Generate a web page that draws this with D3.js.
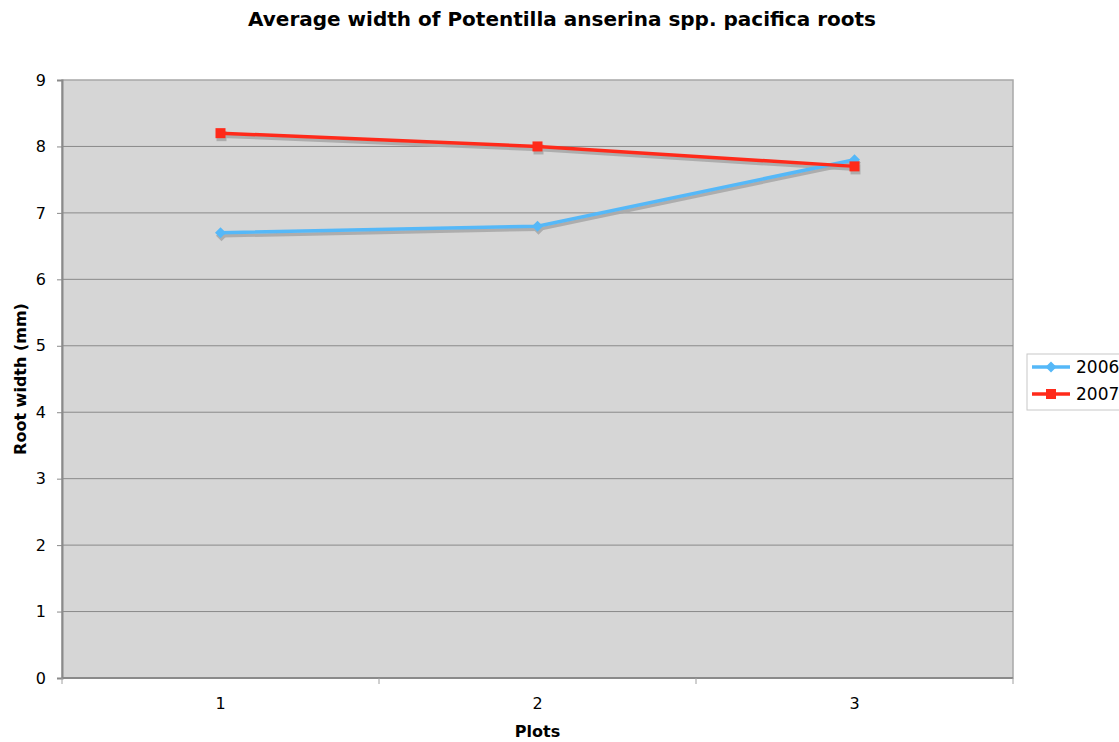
<!DOCTYPE html>
<html>
<head>
<meta charset="utf-8">
<script src="https://cdn.jsdelivr.net/npm/d3@7"></script>
<style>
  html, body { margin: 0; padding: 0; background: #fff; }
  svg { display: block; }
  text { font-family: "DejaVu Sans", Verdana, sans-serif; }
</style>
</head>
<body>
<svg id="chart" width="1119" height="742"></svg>
<script>
// Plot categories and yearly average root widths (mm)
const plots = ["1", "2", "3"];
const width2006 = [6.7, 6.8, 7.8];
const width2007 = [8.2, 8.0, 7.7];
const yTicks = [0, 1, 2, 3, 4, 5, 6, 7, 8, 9];
const seriesNames = ["2006", "2007"];

const series = [
  { name: seriesNames[0], values: width2006, color: "#55b8f8", marker: "diamond" },
  { name: seriesNames[1], values: width2007, color: "#ff2a1a", marker: "square" }
];

const svg = d3.select("#chart");
const plot = { left: 62, right: 1013, top: 80, bottom: 678 };

const x = d3.scaleBand().domain(plots).range([plot.left, plot.right]);
const y = d3.scaleLinear().domain([0, 9]).range([plot.bottom, plot.top]);

// Plot background
svg.append("rect")
  .attr("x", plot.left).attr("y", plot.top)
  .attr("width", plot.right - plot.left).attr("height", plot.bottom - plot.top)
  .attr("fill", "#d6d6d6")
  .attr("stroke", "#a8a8a8").attr("stroke-width", 1.5);

// Horizontal gridlines
svg.append("g")
  .selectAll("line")
  .data(yTicks.filter(d => d > 0 && d < 9))
  .join("line")
  .attr("x1", plot.left).attr("x2", plot.right)
  .attr("y1", d => y(d)).attr("y2", d => y(d))
  .attr("stroke", "#8a8a8a").attr("stroke-width", 1);

// Y axis
const yAxis = svg.append("g")
  .attr("transform", `translate(${plot.left},0)`)
  .call(d3.axisLeft(y).tickValues(yTicks).tickSize(5).tickPadding(11).tickFormat(d3.format("d")));
yAxis.select(".domain").attr("stroke", "#8a8a8a").attr("stroke-width", 2);
yAxis.selectAll(".tick line").attr("stroke", "#8a8a8a");
yAxis.selectAll(".tick text").attr("font-size", 16).attr("fill", "#000")
  .style("font-family", "'DejaVu Sans', Verdana, sans-serif");

// X axis: ticks sit on band boundaries, labels at band centres
const xAxisG = svg.append("g").attr("transform", `translate(0,${plot.bottom})`);
xAxisG.append("line")
  .attr("x1", plot.left).attr("x2", plot.right)
  .attr("stroke", "#8a8a8a").attr("stroke-width", 2);
const boundaries = plots.map(p => x(p)).concat([x(plots[plots.length - 1]) + x.bandwidth()]);
xAxisG.selectAll("line.tk")
  .data(boundaries)
  .join("line").attr("class", "tk")
  .attr("x1", d => d).attr("x2", d => d)
  .attr("y1", 0).attr("y2", 6)
  .attr("stroke", "#a0a0a0");
xAxisG.selectAll("text")
  .data(plots)
  .join("text")
  .attr("x", d => x(d) + x.bandwidth() / 2)
  .attr("y", 31)
  .attr("text-anchor", "middle")
  .attr("font-size", 16)
  .text(d => d);

// Line generator
const line = d3.line()
  .x((d, i) => x(plots[i]) + x.bandwidth() / 2)
  .y(d => y(d));

function drawMarker(g, kind, cx, cy, color) {
  if (kind === "square") {
    g.append("rect").attr("x", cx - 5).attr("y", cy - 5).attr("width", 10).attr("height", 10).attr("fill", color);
  } else {
    g.append("path")
      .attr("d", `M${cx},${cy - 5.5}L${cx + 5.5},${cy}L${cx},${cy + 5.5}L${cx - 5.5},${cy}Z`)
      .attr("fill", color);
  }
}

// Drop shadows first, then the series
series.forEach(s => {
  const sg = svg.append("g").attr("transform", "translate(1,3)").attr("opacity", 0.9);
  sg.append("path").datum(s.values)
    .attr("d", line).attr("fill", "none")
    .attr("stroke", "#a9a9a9").attr("stroke-width", 3.5);
  s.values.forEach((v, i) => drawMarker(sg, s.marker, x(plots[i]) + x.bandwidth() / 2, y(v), "#a9a9a9"));
});
series.forEach(s => {
  const g = svg.append("g");
  g.append("path").datum(s.values)
    .attr("d", line).attr("fill", "none")
    .attr("stroke", s.color).attr("stroke-width", 3.5);
  s.values.forEach((v, i) => drawMarker(g, s.marker, x(plots[i]) + x.bandwidth() / 2, y(v), s.color));
});

// Title and axis titles
svg.append("text")
  .attr("x", 562).attr("y", 26)
  .attr("text-anchor", "middle")
  .attr("font-size", 20).attr("font-weight", "bold")
  .text("Average width of Potentilla anserina spp. pacifica roots");

svg.append("text")
  .attr("transform", `translate(26,${(plot.top + plot.bottom) / 2}) rotate(-90)`)
  .attr("text-anchor", "middle")
  .attr("font-size", 16).attr("font-weight", "bold")
  .text("Root width (mm)");

svg.append("text")
  .attr("x", (plot.left + plot.right) / 2).attr("y", 737)
  .attr("text-anchor", "middle")
  .attr("font-size", 16).attr("font-weight", "bold")
  .text("Plots");

// Legend
const lg = svg.append("g").attr("transform", "translate(1027,354)");
lg.append("rect")
  .attr("x", 0).attr("y", 0).attr("width", 110).attr("height", 56)
  .attr("fill", "#fff").attr("stroke", "#c8c8c8");
series.forEach((s, i) => {
  const cy = 13 + i * 27;
  lg.append("line").attr("x1", 5).attr("x2", 43).attr("y1", cy).attr("y2", cy)
    .attr("stroke", s.color).attr("stroke-width", 3.5);
  drawMarker(lg, s.marker, 24, cy, s.color);
  lg.append("text").attr("x", 49).attr("y", cy + 6)
    .attr("font-size", 17).text(s.name);
});
</script>
</body>
</html>
